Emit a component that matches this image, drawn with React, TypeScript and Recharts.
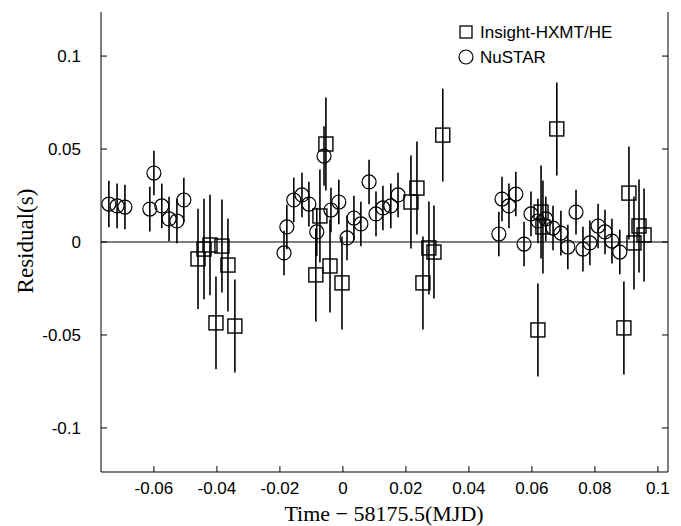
import React from "react";
import {
  ErrorBar,
  ReferenceLine,
  Scatter,
  ScatterChart,
  XAxis,
  YAxis,
} from "recharts";

const nuX = [
  -0.0743, -0.0717, -0.0692, -0.0613, -0.06, -0.0575, -0.0552, -0.0527, -0.0505,
  -0.0187, -0.0178, -0.0156, -0.013, -0.0108, -0.0083, -0.006, -0.0038, -0.0013,
  0.0013, 0.0035, 0.0057, 0.0083, 0.0105, 0.0127, 0.0152, 0.0175,
  0.0495, 0.0505, 0.0527, 0.0549, 0.0575, 0.0597, 0.0619, 0.0644, 0.0667, 0.0692,
  0.0714, 0.074, 0.0762, 0.0784, 0.081, 0.0832, 0.0854, 0.0879,
];
const nuY = [
  0.0204, 0.0194, 0.0188, 0.0177, 0.0371, 0.0194, 0.0124, 0.0113, 0.0226,
  -0.0059, 0.0081, 0.0226, 0.0253, 0.0204, 0.0054, 0.0462, 0.0172, 0.0215,
  0.0022, 0.0129, 0.0097, 0.0323, 0.0151, 0.0183, 0.0194, 0.0253,
  0.0043, 0.0231, 0.0194, 0.0258, -0.0011, 0.0151, 0.0113, 0.0124, 0.0075, 0.0048,
  -0.0027, 0.0161, -0.0038, -0.0005, 0.0086, 0.0054, 0.0005, -0.0054,
];
const nuErr = [
  0.0125, 0.012, 0.012, 0.012, 0.012, 0.012, 0.012, 0.012, 0.012,
  0.012, 0.012, 0.012, 0.012, 0.012, 0.013, 0.016, 0.012, 0.012,
  0.012, 0.012, 0.012, 0.012, 0.012, 0.012, 0.012, 0.012,
  0.012, 0.012, 0.012, 0.012, 0.012, 0.012, 0.012, 0.012, 0.012, 0.012,
  0.012, 0.012, 0.012, 0.012, 0.012, 0.012, 0.012, 0.012,
];

const heX = [
  -0.046, -0.0441, -0.0422, -0.0403, -0.0384, -0.0365, -0.0343,
  -0.0086, -0.0073, -0.0054, -0.0041, -0.0003,
  0.0216, 0.0235, 0.0254, 0.0273, 0.0289, 0.0317,
  0.0619, 0.0629, 0.0635, 0.0679, 0.0892, 0.0908, 0.0924, 0.094, 0.0956,
];
const heY = [
  -0.0091, -0.0038, -0.0016, -0.0435, -0.0022, -0.0124, -0.0452,
  -0.0177, 0.014, 0.0527, -0.0129, -0.022,
  0.0215, 0.029, -0.022, -0.0032, -0.0054, 0.0575,
  -0.0473, 0.0161, 0.0081, 0.0608, -0.0462, 0.0263, -0.0005, 0.0086, 0.0038,
];
const heErr = [
  0.027, 0.027, 0.027, 0.025, 0.025, 0.025, 0.025,
  0.025, 0.025, 0.025, 0.025, 0.025,
  0.025, 0.025, 0.025, 0.025, 0.025, 0.025,
  0.025, 0.025, 0.025, 0.025, 0.025, 0.025, 0.025, 0.025, 0.025,
];

const xTicks = [-0.06, -0.04, -0.02, 0, 0.02, 0.04, 0.06, 0.08, 0.1];
const yTicks = [-0.1, -0.05, 0, 0.05, 0.1];

const nuData = nuX.map((x, i) => ({ x, y: nuY[i], e: nuErr[i] }));
const heData = heX.map((x, i) => ({ x, y: heY[i], e: heErr[i] }));

const Circle = (p: any) => (
  <circle cx={p.cx} cy={p.cy} r={7} fill="none" stroke="#000" strokeWidth={1.2} />
);
const Square = (p: any) => (
  <rect x={p.cx - 7} y={p.cy - 7} width={14} height={14} fill="none" stroke="#000" strokeWidth={1.4} />
);

const FONT = "Liberation Sans, Arial, sans-serif";
const PLOT_LEFT = 101;
const PLOT_RIGHT = 668;
const PLOT_TOP = 12;
const PLOT_BOTTOM = 472;

// ticks drawn inward, labels outside
const BottomTick = (p: any) => (
  <g>
    <line x1={p.x} x2={p.x} y1={PLOT_BOTTOM} y2={PLOT_BOTTOM - 6} stroke="#000" />
    <text x={p.x} y={PLOT_BOTTOM + 22} textAnchor="middle" fontSize={17} fontFamily={FONT}>
      {String(p.payload.value)}
    </text>
  </g>
);
const LeftTick = (p: any) => (
  <g>
    <line x1={PLOT_LEFT} x2={PLOT_LEFT + 6} y1={p.y} y2={p.y} stroke="#000" />
    <text x={PLOT_LEFT - 20} y={p.y + 6} textAnchor="end" fontSize={17} fontFamily={FONT}>
      {String(p.payload.value)}
    </text>
  </g>
);
const TopTick = (p: any) => (
  <line x1={p.x} x2={p.x} y1={PLOT_TOP} y2={PLOT_TOP + 6} stroke="#000" />
);
const RightTick = (p: any) => (
  <line x1={PLOT_RIGHT} x2={PLOT_RIGHT - 6} y1={p.y} y2={p.y} stroke="#000" />
);

export default function App() {
  return (
    <div style={{ position: "absolute", left: 0, top: 0, width: 681, height: 526, background: "#fff" }}>
      <ScatterChart width={681} height={526} margin={{ top: 12, right: 0, bottom: 0, left: 0 }}>
        <XAxis
          xAxisId="b"
          type="number"
          dataKey="x"
          domain={[-0.0768, 0.1032]}
          ticks={xTicks}
          height={54}
          allowDataOverflow
          stroke="#000"
          tickLine={false}
          tick={<BottomTick />}
        />
        <XAxis
          xAxisId="t"
          orientation="top"
          type="number"
          dataKey="x"
          domain={[-0.0768, 0.1032]}
          ticks={xTicks}
          height={0}
          allowDataOverflow
          stroke="#000"
          tickLine={false}
          tick={<TopTick />}
        />
        <YAxis
          yAxisId="l"
          type="number"
          dataKey="y"
          domain={[-0.1237, 0.1237]}
          ticks={yTicks}
          width={101}
          allowDataOverflow
          stroke="#000"
          tickLine={false}
          tick={<LeftTick />}
        />
        <YAxis
          yAxisId="r"
          orientation="right"
          type="number"
          dataKey="y"
          domain={[-0.1237, 0.1237]}
          ticks={yTicks}
          width={13}
          allowDataOverflow
          stroke="#000"
          tickLine={false}
          tick={<RightTick />}
        />
        <ReferenceLine xAxisId="b" yAxisId="l" y={0} stroke="#555" strokeWidth={1.3} />
        <Scatter xAxisId="b" yAxisId="l" data={heData} shape={Square} isAnimationActive={false}>
          <ErrorBar dataKey="e" direction="y" width={0} stroke="#000" strokeWidth={1.6} />
        </Scatter>
        <Scatter xAxisId="b" yAxisId="l" data={nuData} shape={Circle} isAnimationActive={false}>
          <ErrorBar dataKey="e" direction="y" width={0} stroke="#000" strokeWidth={1.6} />
        </Scatter>
      </ScatterChart>
      <div
        style={{
          position: "absolute",
          left: 26,
          top: 241,
          transform: "translate(-50%, -50%) rotate(-90deg)",
          fontFamily: "Liberation Serif, serif",
          fontSize: 23,
          whiteSpace: "nowrap",
        }}
      >
        Residual(s)
      </div>
      <div
        style={{
          position: "absolute",
          left: 384,
          top: 514,
          transform: "translate(-50%, -50%)",
          fontFamily: "Liberation Serif, serif",
          fontSize: 22,
          lineHeight: "22px",
          whiteSpace: "nowrap",
        }}
      >
        Time − 58175.5(MJD)
      </div>
      <svg style={{ position: "absolute", left: 455, top: 20 }} width={220} height={50}>
        <rect x={5} y={6} width={12} height={12} fill="none" stroke="#000" strokeWidth={1.3} />
        <circle cx={11} cy={37} r={7} fill="none" stroke="#000" strokeWidth={1.2} />
        <text x={25} y={18} fontSize={17} fontFamily={FONT}>
          Insight-HXMT/HE
        </text>
        <text x={25} y={43} fontSize={17} fontFamily={FONT}>
          NuSTAR
        </text>
      </svg>
    </div>
  );
}
